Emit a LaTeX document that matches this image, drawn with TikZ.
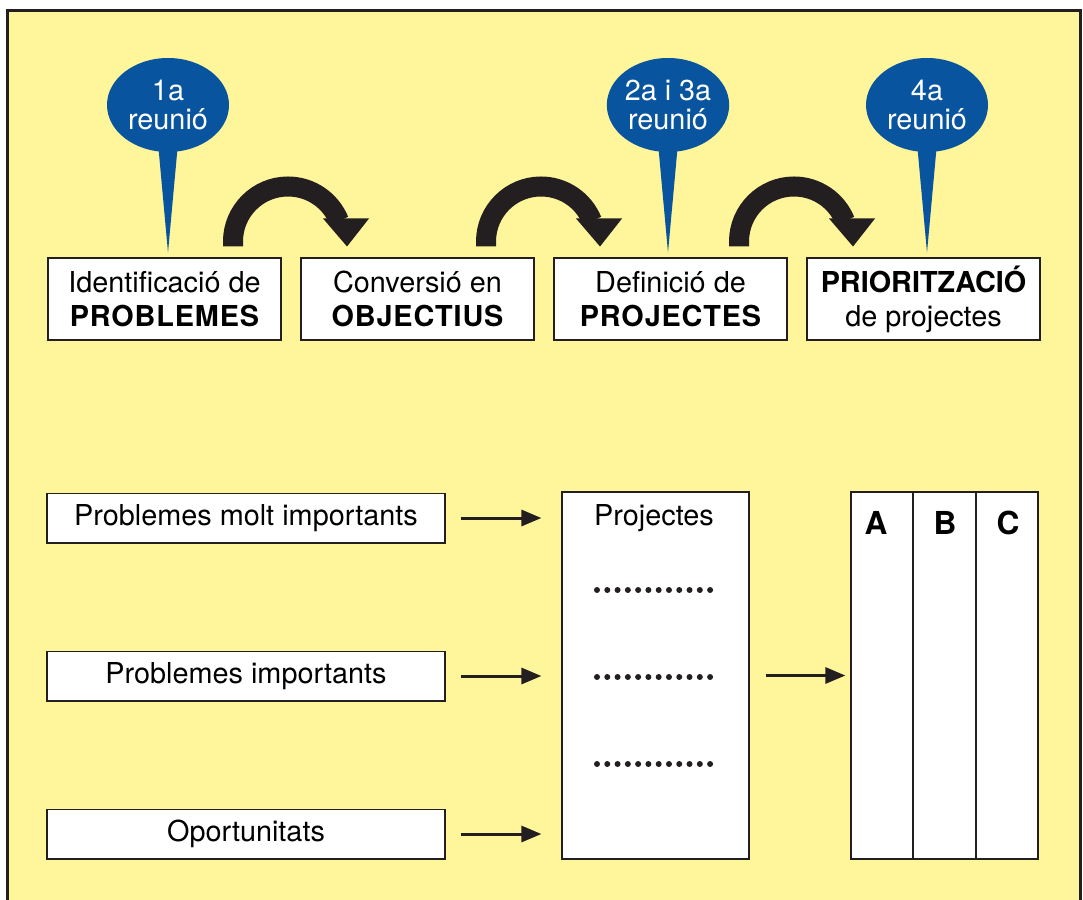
\documentclass[tikz,border=0pt]{standalone}
\usepackage{fontspec}
\setmainfont{TeX Gyre Heros}
\usepackage{xcolor}
\definecolor{paper}{RGB}{255,245,155}
\definecolor{reunio}{RGB}{8,84,158}
\definecolor{ink}{RGB}{35,31,32}
\usepackage{tikz}
\usetikzlibrary{arrows.meta, positioning, calc, shapes.geometric}
\newcommand{\gros}[1]{{\bfseries\addfontfeature{LetterSpace=3}#1}}

\begin{document}
\begin{tikzpicture}[
    x=0.25mm, y=0.25mm,
    fase/.style={draw=ink, line width=0.45mm, fill=white, minimum width=58.3mm, minimum height=20.3mm, align=center, inner sep=0pt, font=\fontsize{20.5}{24.2}\selectfont},
    llista/.style={draw=ink, line width=0.45mm, fill=white, minimum width=99.3mm, minimum height=12.3mm, inner sep=0pt, font=\fontsize{20.5}{24}\selectfont},
    columna/.style={draw=ink, line width=0.45mm, fill=white, minimum width=46.6mm, minimum height=91.6mm, inner sep=0pt},
    globus/.style={ellipse, fill=reunio, text=white, minimum width=30.5mm, minimum height=23.5mm, inner sep=0pt, align=center, font=\fontsize{20.5}{21.3}\selectfont},
    fletxa/.style={ink, line width=0.75mm, -{Triangle[length=5mm, width=4mm]}},
    gir/.style={ink, line width=5mm},
    punts/.style={ink, line width=1.5mm, line cap=round, dash pattern=on 0pt off 2.57mm}
    ]

    \useasboundingbox (0,0) rectangle (1083,-899);
    \fill[white] (0,0) rectangle (1083,-899);
    \draw[ink, line width=0.75mm, fill=paper] (7,-11) rectangle (1080,-930);

    \node[fase] (ident) at (164.5,-299) {Identificació de\\\gros{PROBLEMES}};
    \node[fase, right=4.5mm of ident] (conv) {Conversió en\\\gros{OBJECTIUS}};
    \node[fase, right=4.5mm of conv] (defin) {Definició de\\\gros{PROJECTES}};
    \node[fase, right=4.5mm of defin] (prior) {\textbf{PRIORITZACIÓ}\\de projectes};

    \node[globus] (r1) at (168,-105) {1a\\reunió};
    \node[globus] (r2) at (668,-105) {2a i 3a\\reunió};
    \node[globus] (r4) at (927,-105) {4a\\reunió};
    \foreach \g/\f in {r1/ident, r2/defin, r4/prior}
        \fill[reunio] ($(\g.south)+(-9.5,4)$) -- ($(\g.south)+(9.5,4)$) -- ($(\g.south |- \f.north)+(0,5)$) -- cycle;

    \foreach \a/\b in {ident/conv, conv/defin, defin/prior}{
        \draw[gir] ($(\a.north east)+(-49,11)$) -- ++(0,5) arc[start angle=180, end angle=22, radius=55];
        \fill[ink] ($(\b.north west)+(47,11)$) -- ++(-24,28) -- ++(46,0) -- cycle;
    }

    \node[llista] (pmi) at (246,-518) {Problemes molt importants};
    \node[llista] (pim) at (246,-676) {Problemes importants};
    \node[llista] (opo) at (246,-834) {Oportunitats};

    \node[columna] (proj) at (655.5,-675.5) {};
    \node[font=\fontsize{20.5}{24}\selectfont] (tproj) at (654,-518) {Projectes};
    \foreach \y in {-590,-677,-764}
        \draw[punts] (597,\y) -- (711,\y);

    \node[columna] (abc) at (944.5,-675.5) {};
    \draw[ink, line width=0.35mm] ($(abc.north west)!1/3!(abc.north east)$) -- ($(abc.south west)!1/3!(abc.south east)$);
    \draw[ink, line width=0.35mm] ($(abc.north west)!2/3!(abc.north east)$) -- ($(abc.south west)!2/3!(abc.south east)$);
    \foreach \l/\x in {A/876,B/945,C/1008}
        \node[font=\bfseries\fontsize{22.5}{24}\selectfont] (col\l) at (\x,-523) {\l};

    \foreach \n in {pmi,pim,opo}
        \draw[fletxa, shorten <=3.75mm, shorten >=5mm] (\n.east) -- (\n.east -| proj.west);
    \draw[fletxa, shorten <=4mm, shorten >=1.25mm] (proj.east) -- (abc.west);
\end{tikzpicture}
\end{document}
